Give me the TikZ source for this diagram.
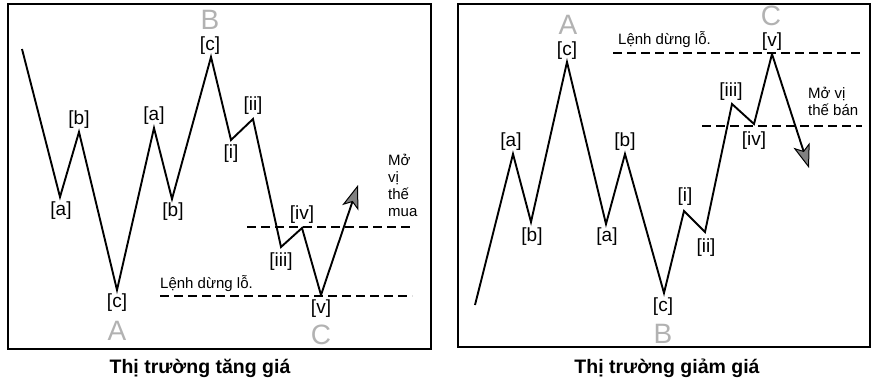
\documentclass[tikz,border=0pt]{standalone}
\usepackage{fontspec}
\setmainfont{Liberation Sans}
\usetikzlibrary{arrows.meta, positioning}

\begin{document}
\begin{tikzpicture}[x=1pt, y=-1pt, wave/.style={line width=1.9pt, line join=miter}, lbl/.style={inner sep=0pt, font=\fontsize{19}{21}\selectfont}, wavept/.style={inner sep=0pt, text=black!30, font=\fontsize{28}{28}\selectfont}, note/.style={inner sep=0pt, align=left, font=\fontsize{15}{17}\selectfont}, stopline/.style={line width=1.6pt, dash pattern=on 9pt off 5pt}, frame/.style={line width=1.5pt}, tradetip/.style={-{Stealth[length=24pt, width=17pt, inset=6pt, fill=black!50, line width=1pt]}}, caption/.style={inner sep=0pt, font=\bfseries\fontsize{19.5}{22}\selectfont}]
\useasboundingbox (0,0) rectangle (871,381);
% bull market
\draw[frame] (8,4) rectangle (431,349);
\coordinate (u0) at (22,49);
\coordinate (ua1) at (60,197);
\coordinate (ub1) at (79,132);
\coordinate (uc1) at (117,290);
\coordinate (ua2) at (154,128);
\coordinate (ub2) at (172,199);
\coordinate (uc2) at (211,57);
\coordinate (ui) at (231,140);
\coordinate (uii) at (253,119);
\coordinate (uiii) at (281,247);
\coordinate (uiv) at (302,228);
\coordinate (uv) at (321,295);
\coordinate (uend) at (358,185);
\draw[wave] (u0) -- (ua1) -- (ub1) -- (uc1) -- (ua2) -- (ub2) -- (uc2) -- (ui) -- (uii) -- (uiii) -- (uiv) -- (uv);
\draw[wave, tradetip] (uv) -- (uend);
\node[lbl] (uLa1) at (61,211) {[a]};
\node[lbl] (uLb1) at (79,120) {[b]};
\node[lbl] (uLc1) at (117,303) {[c]};
\node[wavept, anchor=base] (uA) at (117,340) {A};
\node[lbl] (uLa2) at (154,116) {[a]};
\node[lbl] (uLb2) at (173,212) {[b]};
\node[lbl] (uLc2) at (210,46) {[c]};
\node[wavept, anchor=base] (uB) at (210,29) {B};
\node[lbl] (uLi) at (231,154) {[i]};
\node[lbl] (uLii) at (253,106) {[ii]};
\node[lbl] (uLiii) at (281,262) {[iii]};
\node[lbl] (uLiv) at (302,215) {[iv]};
\node[lbl] (uLv) at (321,309) {[v]};
\node[wavept, anchor=base] (uC) at (321,344) {C};
\coordinate (uentryL) at (247,227);
\coordinate (uentryR) at (412,227);
\draw[stopline] (uentryL) -- (uentryR);
\coordinate (ustopL) at (160,296);
\coordinate (ustopR) at (412,296);
\draw[stopline] (ustopL) -- (ustopR);
\node[note, anchor=north west] (ubuy) at (388,154) {Mở\\vị\\thế\\mua};
\node[note, anchor=west] (ustop) at (160,284) {Lệnh dừng lỗ.};
\node[caption] (ucap) at (200,368) {Thị trường tăng giá};
% bear market
\draw[frame] (458,4) rectangle (870,347);
\coordinate (d0) at (475,305);
\coordinate (da1) at (513,154);
\coordinate (db1) at (531,222);
\coordinate (dc1) at (567,62);
\coordinate (da2) at (606,224);
\coordinate (db2) at (625,154);
\coordinate (dc2) at (664,293);
\coordinate (di) at (684,211);
\coordinate (dii) at (705,232);
\coordinate (diii) at (732,104);
\coordinate (div) at (754,124);
\coordinate (dv) at (772,54);
\coordinate (dend) at (809,168);
\draw[wave] (d0) -- (da1) -- (db1) -- (dc1) -- (da2) -- (db2) -- (dc2) -- (di) -- (dii) -- (diii) -- (div) -- (dv);
\draw[wave, tradetip] (dv) -- (dend);
\node[lbl] (dLa1) at (511,142) {[a]};
\node[lbl] (dLb1) at (532,237) {[b]};
\node[lbl] (dLc1) at (567,51) {[c]};
\node[wavept, anchor=base] (dA) at (568,34) {A};
\node[lbl] (dLa2) at (607,237) {[a]};
\node[lbl] (dLb2) at (625,142) {[b]};
\node[lbl] (dLc2) at (663,307) {[c]};
\node[wavept, anchor=base] (dB) at (663,343) {B};
\node[lbl] (dLi) at (685,197) {[i]};
\node[lbl] (dLii) at (706,248) {[ii]};
\node[lbl] (dLiii) at (731,92) {[iii]};
\node[lbl] (dLiv) at (754,141) {[iv]};
\node[lbl] (dLv) at (772,42) {[v]};
\node[wavept, anchor=base] (dC) at (771,25) {C};
\coordinate (dstopL) at (613,53);
\coordinate (dstopR) at (862,53);
\draw[stopline] (dstopL) -- (dstopR);
\coordinate (dentryL) at (702,126);
\coordinate (dentryR) at (862,126);
\draw[stopline] (dentryL) -- (dentryR);
\node[note, anchor=north west] (dsell) at (808,87) {Mở vị\\thế bán};
\node[note, anchor=west] (dstop) at (618,40) {Lệnh dừng lỗ.};
\node[caption] (dcap) at (667,368) {Thị trường giảm giá};
\end{tikzpicture}
\end{document}
